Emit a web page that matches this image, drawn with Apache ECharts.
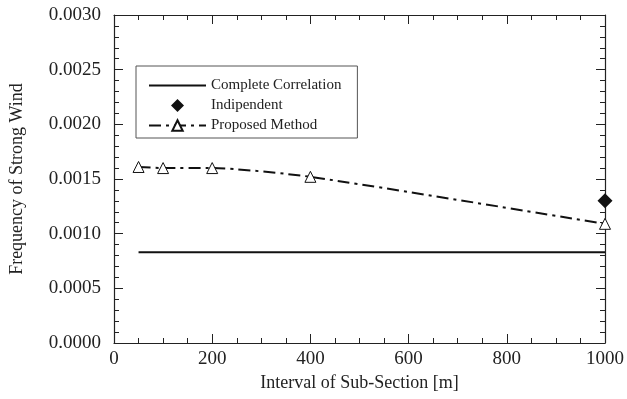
<!DOCTYPE html>
<html>
<head>
<meta charset="utf-8">
<script src="https://cdn.jsdelivr.net/npm/echarts@6/dist/echarts.min.js"></script>
<style>html,body{margin:0;padding:0;background:#fff}#c{width:627px;height:399px}</style>
</head>
<body>
<div id="c"></div>
<script>
var xCorrelation = [50, 1000];
var yCorrelation = [0.00083, 0.00083];
var xIndependent = [1000];
var yIndependent = [0.0013];
var xProposed = [50, 100, 200, 400, 1000];
var yProposed = [0.00161, 0.0016, 0.0016, 0.00152, 0.00109];
var seriesNames = ['Complete Correlation', 'Indipendent', 'Proposed Method'];

function pairs(xs, ys) { return xs.map(function (x, i) { return [x, ys[i]]; }); }

var FONT = '"Liberation Serif", "Times New Roman", serif';
function ax(extra, split) {
  return Object.assign({
    axisLine: { show: true, onZero: false, lineStyle: { color: '#222', width: 1.2 } },
    axisTick: { show: true, inside: true, length: 9, lineStyle: { color: '#222' } },
    minorTick: { show: true, splitNumber: split, length: 5, lineStyle: { color: '#222' } },
    splitLine: { show: false }
  }, extra);
}

var chart = echarts.init(document.getElementById('c'));
chart.setOption({
  animation: false,
  backgroundColor: '#fff',
  textStyle: { fontFamily: FONT, color: '#222' },
  grid: { left: 113, right: 22, top: 15, bottom: 56 },
  legend: {
    orient: 'vertical', left: 136, top: 66,
    data: [
      { name: seriesNames[0], icon: 'path://M0,0 L57,0 L57,2 L0,2 Z' },
      { name: seriesNames[1], icon: 'path://M5,0 L10,5 L5,10 L0,5 Z' },
      { name: seriesNames[2] }
    ],
    borderColor: '#555', borderWidth: 1,
    padding: [12, 16, 5, 12],
    itemWidth: 57, itemHeight: 13, itemGap: 5,
    textStyle: { fontFamily: FONT, fontSize: 15, color: '#222' }
  },
  xAxis: [
    ax({ type: 'value', position: 'bottom', min: 0, max: 1000, interval: 200,
      axisLabel: { fontSize: 19, color: '#222', margin: 7, fontFamily: FONT,
        formatter: function (v) { return String(v); } },
      name: 'Interval of Sub-Section [m]', nameLocation: 'middle', nameGap: 31,
      nameTextStyle: { fontSize: 18, color: '#222', fontFamily: FONT } }, 4),
    ax({ type: 'value', position: 'top', min: 0, max: 1000, interval: 200,
      axisLabel: { show: false } }, 4)
  ],
  yAxis: [
    ax({ type: 'value', position: 'left', min: 0, max: 0.003, interval: 0.0005,
      axisLabel: { fontSize: 19, color: '#222', margin: 13, fontFamily: FONT,
        formatter: function (v) { return v.toFixed(4); } },
      name: 'Frequency of Strong Wind', nameLocation: 'middle', nameGap: 88,
      nameTextStyle: { fontSize: 18, color: '#222', fontFamily: FONT } }, 5),
    ax({ type: 'value', position: 'right', min: 0, max: 0.003, interval: 0.0005,
      axisLabel: { show: false } }, 5)
  ],
  series: [
    { name: seriesNames[0], type: 'line', data: pairs(xCorrelation, yCorrelation),
      showSymbol: false, symbol: 'none', clip: false,
      lineStyle: { color: '#111', width: 2 }, itemStyle: { color: '#111' } },
    { name: seriesNames[1], type: 'scatter', data: pairs(xIndependent, yIndependent),
      symbol: 'diamond', symbolSize: 15, clip: false,
      itemStyle: { color: '#111', opacity: 1 } },
    { name: seriesNames[2], type: 'line', data: pairs(xProposed, yProposed),
      smooth: 0.2, symbol: 'triangle', symbolSize: 11, showSymbol: true, clip: false, z: 3,
      lineStyle: { color: '#111', width: 2, type: [12, 5, 3, 5] },
      itemStyle: { color: '#fff', borderColor: '#111', borderWidth: 1 } }
  ]
});
</script>
</body>
</html>
